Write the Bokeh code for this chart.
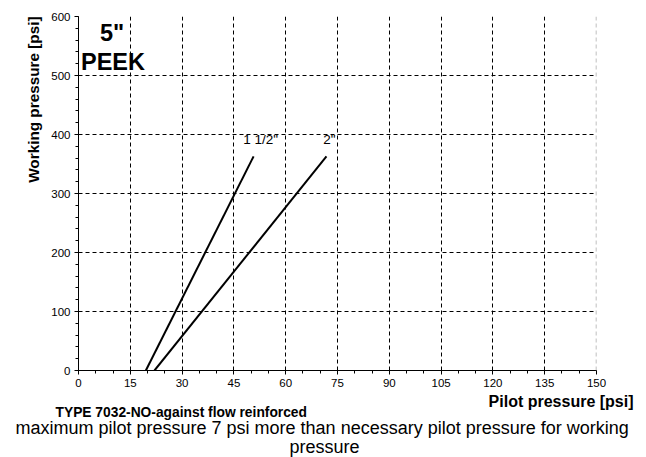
import math
from bokeh.plotting import figure
from bokeh.models import Label, Range1d, SingleIntervalTicker, Span, Title
from bokeh.embed import file_html
from bokeh.resources import INLINE

# data
x_15 = [19.5, 50.7]
y_15 = [0, 363]
x_2 = [22.0, 71.8]
y_2 = [0, 363]
series_names = ['1 1/2"', '2"']
x_ticks_interval = 15
y_ticks_interval = 100

FONT = "Liberation Sans"

p = figure(width=646, height=457, output_backend="svg", toolbar_location=None,
           x_range=Range1d(0, 150), y_range=Range1d(0, 600),
           min_border_left=78, min_border_right=50, min_border_top=16, min_border_bottom=87)
p.outline_line_color = None
p.background_fill_color = "white"

p.xaxis.ticker = SingleIntervalTicker(interval=x_ticks_interval, num_minor_ticks=3)
p.yaxis.ticker = SingleIntervalTicker(interval=y_ticks_interval, num_minor_ticks=5)
for ax in (p.xaxis, p.yaxis):
    ax.axis_line_color = "black"
    ax.major_tick_line_color = "black"
    ax.minor_tick_line_color = "black"
    ax.major_tick_in = 0
    ax.major_tick_out = 4
    ax.minor_tick_in = 0
    ax.minor_tick_out = 3
    ax.major_label_text_font = FONT
    ax.major_label_text_font_size = "11.5px"
    ax.major_label_text_color = "black"
p.xaxis.major_label_standoff = 4
p.yaxis.major_label_standoff = 4

for g in (p.xgrid, p.ygrid):
    g.grid_line_color = "black"
    g.grid_line_dash = "4 3"
    g.grid_line_width = 1

p.add_layout(Span(location=150, dimension="height", line_color="#aaaaaa",
                  line_dash="4 3", line_width=1.5))

p.line(x_15, y_15, line_color="black", line_width=2)
p.line(x_2, y_2, line_color="black", line_width=2)

p.add_layout(Label(x=x_15[1], y=y_15[1], x_offset=7, y_offset=9, text=series_names[0],
                   text_font=FONT, text_font_size="13.5px", text_align="center",
                   text_color="black"))
p.add_layout(Label(x=x_2[1], y=y_2[1], x_offset=3, y_offset=9, text=series_names[1],
                   text_font=FONT, text_font_size="13.5px", text_align="center",
                   text_color="black"))

p.add_layout(Label(x=33.5, y=337.5, x_units="screen", y_units="screen", text='5"',
                   text_font=FONT, text_font_size="23.5px", text_font_style="bold",
                   text_align="center", text_baseline="middle", text_color="black"))
p.add_layout(Label(x=34.5, y=308.5, x_units="screen", y_units="screen", text="PEEK",
                   text_font=FONT, text_font_size="23.5px", text_font_style="bold",
                   text_align="center", text_baseline="middle", text_color="black"))

# axis titles and captions as side-panel titles
p.add_layout(Title(text="Working pressure [psi]", align="right", offset=0, standoff=13,
                   text_font=FONT, text_font_size="15.3px", text_font_style="bold",
                   text_color="black"), "left")
p.add_layout(Title(text="Pilot pressure [psi]", align="right", offset=-37, standoff=2,
                   text_font=FONT, text_font_size="16px", text_font_style="bold",
                   text_color="black"), "below")
p.add_layout(Title(text="TYPE 7032-NO-against flow reinforced", align="left", offset=-23,
                   standoff=-16,
                   text_font=FONT, text_font_size="13.8px", text_font_style="bold",
                   text_color="black"), "below")
p.add_layout(Title(text="maximum pilot pressure 7 psi more than necessary pilot pressure for working",
                   align="left", offset=-63, standoff=8,
                   text_font=FONT, text_font_size="18px", text_font_style="normal",
                   text_color="black"), "below")
p.add_layout(Title(text="pressure", align="left", offset=211, standoff=-13,
                   text_font=FONT, text_font_size="18px", text_font_style="normal",
                   text_color="black"), "below")

open("out.html", "w").write(file_html(p, INLINE))
